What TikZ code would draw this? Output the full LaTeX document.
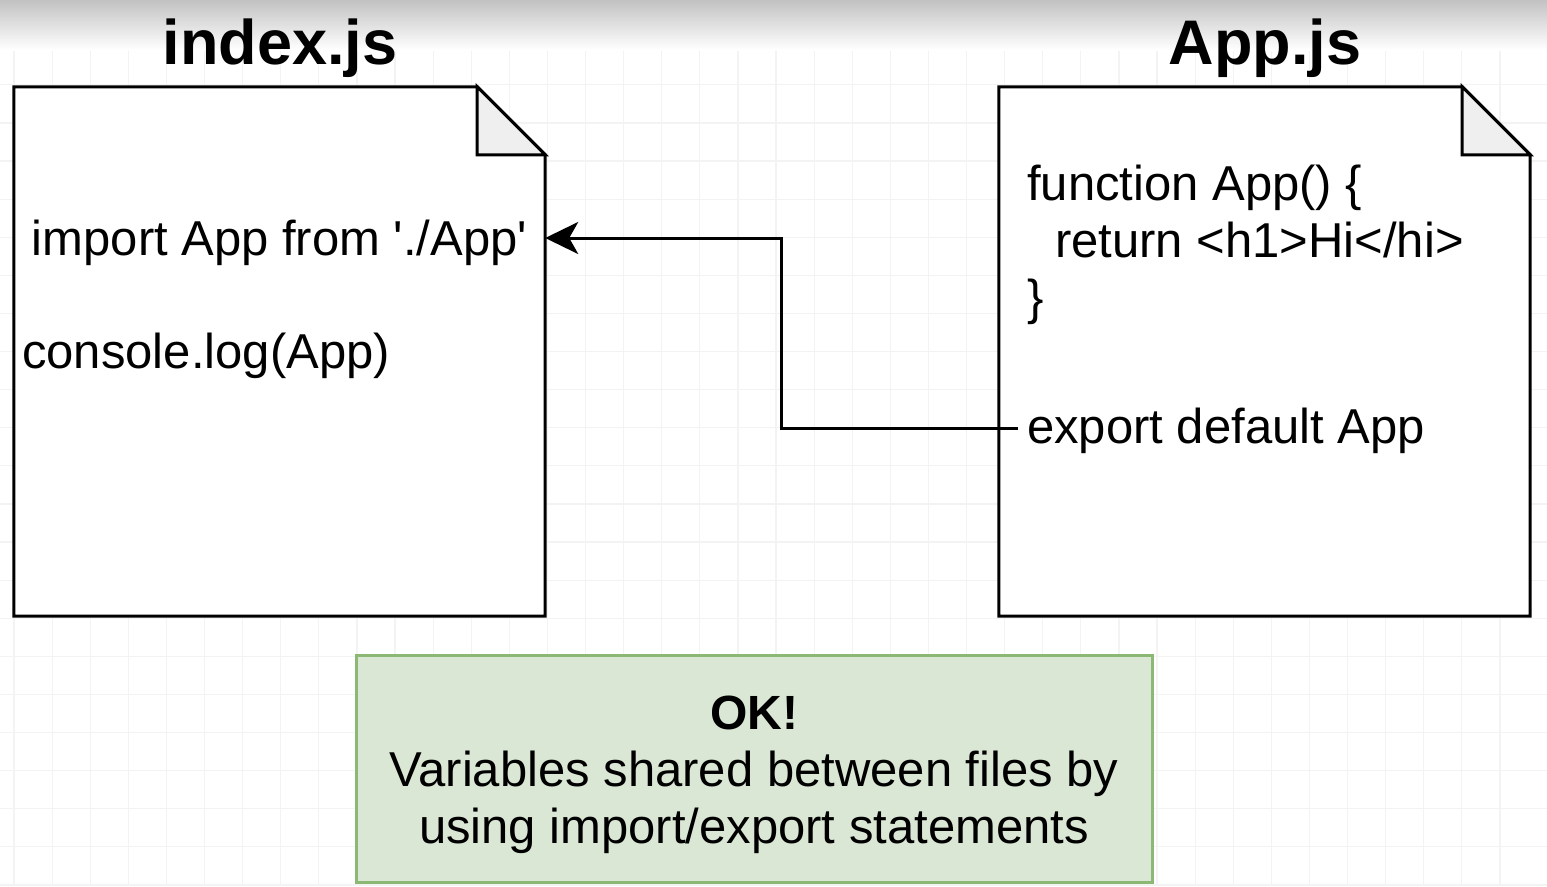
\documentclass[tikz,border=0pt]{standalone}
\usepackage{fontspec}
\setmainfont{Liberation Sans}
\usetikzlibrary{arrows.meta,calc}
\definecolor{gridc}{HTML}{F3F3F3}
\definecolor{foldc}{HTML}{EFEFEF}
\definecolor{okfill}{HTML}{DAE7D4}
\definecolor{okline}{HTML}{8BB872}
\tikzset{
  doc/.style={draw=none,minimum width=531pt,minimum height=529pt,inner sep=0pt},
  docline/.style={line width=3pt,line join=miter},
  title/.style={font=\fontsize{63}{70}\selectfont\bfseries,anchor=base,inner sep=0pt},
  code/.style={font=\fontsize{49}{57}\selectfont,inner sep=0pt},
  conn/.style={line width=3pt,-{Stealth[length=33pt,width=32pt,inset=9pt]}},
  okbox/.style={draw=okline,fill=okfill,line width=3pt,minimum width=796pt,minimum height=227pt,inner sep=0pt},
  oktext/.style={align=center,font=\fontsize{49}{57}\selectfont,inner sep=0pt}
}
\begin{document}
\begin{tikzpicture}[x=1pt,y=-1pt]
\useasboundingbox (0,0) rectangle (1547,886);
\fill[white] (0,0) rectangle (1547,886);
% grid
\foreach \i in {0,...,40} {\draw[gridc,line width=1.2pt] ({14+38.1*\i-38.1},0) -- ({14+38.1*\i-38.1},886);}
\foreach \j in {0,...,23} {\draw[gridc,line width=1.2pt] (0,{8.6+38.1*\j}) -- (1547,{8.6+38.1*\j});}
% top fade
\shade[top color=black!24,bottom color=white] (0,0) rectangle (1547,50);
% titles
\node[title] (tidx) at (280,64) {index.js};
\node[title] (tapp) at (1265,64) {App.js};
% documents
\node[doc] (idx) at (279.5,351.5) {};
\node[doc] (app) at (1264.5,351.5) {};
\foreach \d in {idx,app}{
  \draw[docline,fill=white] (\d.north west) -- ($(\d.north east)+(-68,0)$) -- ($(\d.north east)+(0,68)$) -- (\d.south east) -- (\d.south west) -- cycle;
  \draw[docline,fill=foldc] ($(\d.north east)+(-68,0)$) -- ($(\d.north east)+(-68,68)$) -- ($(\d.north east)+(0,68)$) -- cycle;
}
% index.js text
\node[code,minimum width=531pt,text height=34pt,text depth=0pt] (imp) at (279.5,238) {import App from \textquotesingle./App\textquotesingle};
\node[code,anchor=base west] (log) at (22,368) {console.log(App)};
% App.js text
\node[code,anchor=base west] (f1) at (1027,200) {function App() \{};
\node[code,anchor=base west] (f2) at (1055,257) {return <h1>Hi</hi>};
\node[code,anchor=base west] (f3) at (1027,314) {\}};
\node[code,anchor=west,inner xsep=9pt,text height=30pt,text depth=0pt] (exp) at (1018,428) {export default App};
% connector
\draw[conn] (exp.west) -| ($(exp.west)!0.5!(imp.east)$) |- (imp.east);
% OK box
\node[okbox] (ok) at (754,768.5) {};
\node[oktext] (okt) at (754,774.5) {{\fontsize{48}{57}\selectfont\bfseries OK!}\\Variables shared between files by\\using import/export statements};
\end{tikzpicture}
\end{document}
